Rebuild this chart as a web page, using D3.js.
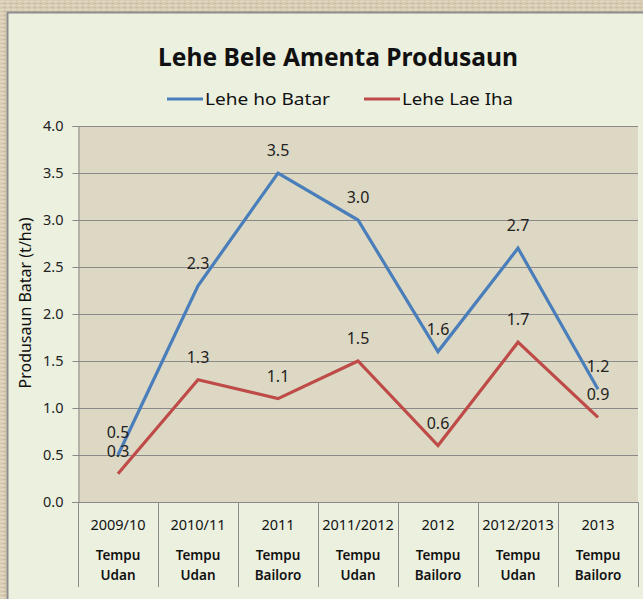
<!DOCTYPE html>
<html>
<head>
<meta charset="utf-8">
<script src="https://cdn.jsdelivr.net/npm/d3@7"></script>
<style>
  body { margin: 0; background: #d6c9b1; }
  svg { display: block; }
</style>
</head>
<body>
<svg id="chart" width="643" height="599"></svg>
<script>
"use strict";

// chart data
var years = ["2009/10", "2010/11", "2011", "2011/2012", "2012", "2012/2013", "2013"];
var seasons = [["Tempu", "Udan"], ["Tempu", "Udan"], ["Tempu", "Bailoro"], ["Tempu", "Udan"],
               ["Tempu", "Bailoro"], ["Tempu", "Udan"], ["Tempu", "Bailoro"]];
var batar = [0.5, 2.3, 3.5, 3.0, 1.6, 2.7, 1.2];
var laeIha = [0.3, 1.3, 1.1, 1.5, 0.6, 1.7, 0.9];
var yTicks = [0, 0.5, 1, 1.5, 2, 2.5, 3, 3.5, 4];
var seriesNames = ["Lehe ho Batar", "Lehe Lae Iha"];
var seriesColors = ["#4a7ebb", "#be4b48"];

var font = "'Noto Sans', 'Open Sans', sans-serif";
var svg = d3.select("#chart");

// textured-ish outer background
var defs = svg.append("defs");
var pat = defs.append("pattern").attr("id", "tex")
    .attr("width", 6).attr("height", 4).attr("patternUnits", "userSpaceOnUse");
pat.append("rect").attr("width", 6).attr("height", 4).attr("fill", "#d8cbb3");
pat.append("rect").attr("x", 0).attr("y", 1).attr("width", 4).attr("height", 1).attr("fill", "#e6dcc8");
pat.append("rect").attr("x", 3).attr("y", 3).attr("width", 3).attr("height", 1).attr("fill", "#cbbca2");
svg.append("rect").attr("width", 643).attr("height", 599).attr("fill", "url(#tex)");

// chart panel
svg.append("rect")
    .attr("x", 7.5).attr("y", 12.5).attr("width", 700).attr("height", 700)
    .attr("fill", "#ebf0df").attr("stroke", "#8c8c8c").attr("stroke-width", 2);

var plot = { left: 78, right: 638, top: 126, bottom: 502 };

var x = d3.scaleBand().domain(years).range([plot.left, plot.right]);
var y = d3.scaleLinear().domain([0, 4]).range([plot.bottom, plot.top]);

// plot area
svg.append("rect")
    .attr("x", plot.left).attr("y", plot.top)
    .attr("width", plot.right - plot.left).attr("height", plot.bottom - plot.top)
    .attr("fill", "#ddd8c3");

// gridlines
svg.append("g").selectAll("line").data(yTicks.slice(1)).join("line")
    .attr("x1", plot.left).attr("x2", plot.right)
    .attr("y1", d => Math.round(y(d)) + 0.5).attr("y2", d => Math.round(y(d)) + 0.5)
    .attr("stroke", "#8a8a8a").attr("stroke-width", 1);

// y axis
var yAxis = svg.append("g")
    .attr("transform", "translate(" + (plot.left + 0.5) + ",0)")
    .call(d3.axisLeft(y).tickValues(yTicks).tickFormat(d3.format(".1f")).tickSize(6).tickPadding(9));
yAxis.select(".domain").attr("stroke", "#8a8a8a");
yAxis.selectAll(".tick line").attr("stroke", "#8a8a8a");
yAxis.selectAll(".tick text").attr("font-family", font).attr("font-size", 14.5).attr("fill", "#222");

// x axis line and category separators
svg.append("line")
    .attr("x1", plot.left - 6).attr("x2", plot.right)
    .attr("y1", plot.bottom + 0.5).attr("y2", plot.bottom + 0.5)
    .attr("stroke", "#8a8a8a");
var seps = years.map(d => x(d)).concat([plot.right]);
svg.append("g").selectAll("line").data(seps).join("line")
    .attr("x1", d => Math.round(d) + 0.5).attr("x2", d => Math.round(d) + 0.5)
    .attr("y1", plot.bottom).attr("y2", 587)
    .attr("stroke", "#8a8a8a");

// category labels
var cat = svg.append("g").attr("font-family", font).attr("text-anchor", "middle").attr("fill", "#111");
cat.selectAll("text.yr").data(years).join("text")
    .attr("class", "yr")
    .attr("x", d => x(d) + x.bandwidth() / 2).attr("y", 530)
    .attr("font-size", 14.5)
    .text(d => d);
years.forEach(function(d, i) {
    seasons[i].forEach(function(s, j) {
        cat.append("text")
            .attr("x", x(d) + x.bandwidth() / 2).attr("y", 560 + j * 20)
            .attr("font-size", 13.5).attr("font-weight", 600)
            .text(s);
    });
});

// y axis title
svg.append("text")
    .attr("transform", "translate(31,303) rotate(-90)")
    .attr("text-anchor", "middle").attr("font-family", font)
    .attr("font-size", 15.5).attr("fill", "#111")
    .attr("textLength", 171).attr("lengthAdjust", "spacingAndGlyphs")
    .text("Produsaun Batar (t/ha)");

// title
svg.append("text")
    .attr("x", 338).attr("y", 66)
    .attr("text-anchor", "middle").attr("font-family", font)
    .attr("font-size", 25).attr("font-weight", "bold").attr("fill", "#111")
    .attr("textLength", 360).attr("lengthAdjust", "spacingAndGlyphs")
    .text("Lehe Bele Amenta Produsaun");

// legend
var legendX = [167, 364];
var legendW = [125, 111];
seriesNames.forEach(function(name, i) {
    var g = svg.append("g").attr("transform", "translate(" + legendX[i] + ",99)");
    g.append("line").attr("x1", 0).attr("x2", 36).attr("y1", 0).attr("y2", 0)
        .attr("stroke", seriesColors[i]).attr("stroke-width", 3);
    g.append("text").attr("x", 38).attr("y", 6)
        .attr("font-family", font).attr("font-size", 17).attr("fill", "#111")
        .attr("textLength", legendW[i]).attr("lengthAdjust", "spacingAndGlyphs")
        .text(name);
});

// lines and labels
var line = d3.line()
    .x((d, i) => x(years[i]) + x.bandwidth() / 2)
    .y(d => y(d));

[batar, laeIha].forEach(function(vals, s) {
    svg.append("path")
        .datum(vals)
        .attr("d", line)
        .attr("fill", "none")
        .attr("stroke", seriesColors[s])
        .attr("stroke-width", 3.2)
        .attr("stroke-linejoin", "miter");
});
[batar, laeIha].forEach(function(vals, s) {
    svg.append("g").selectAll("text").data(vals).join("text")
        .attr("x", (d, i) => x(years[i]) + x.bandwidth() / 2)
        .attr("y", d => y(d) - 17)
        .attr("text-anchor", "middle").attr("font-family", font)
        .attr("font-size", 16).attr("fill", "#222")
        .text(d => d3.format(".1f")(d));
});
</script>
</body>
</html>
